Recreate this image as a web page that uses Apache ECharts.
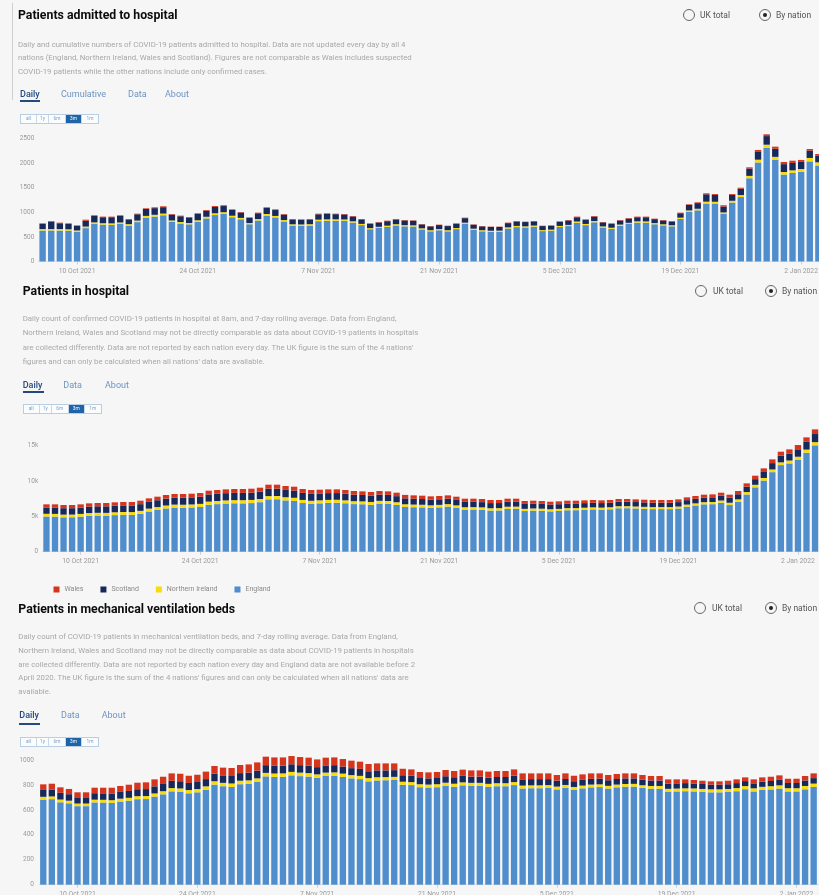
<!DOCTYPE html>
<html>
<head>
<meta charset="utf-8">
<script src="https://cdn.jsdelivr.net/npm/echarts@6/dist/echarts.min.js"></script>
<style>
html,body{margin:0;padding:0;}
body{width:819px;height:895px;overflow:hidden;background:#f6f6f6;position:relative;font-family:Roboto,"Noto Sans",sans-serif;}
#chart{position:absolute;left:0;top:0;width:830px;height:895px;}
.t{position:absolute;white-space:nowrap;z-index:2;}
.title{font-weight:700;font-size:12.3px;color:#0b0c0c;line-height:14px;}
.desc{font-size:7.8px;color:#a8a8a8;}
.tab{font-size:9px;color:#6d93c4;line-height:11px;}
.tab.sel{color:#24497e;font-weight:500;}
.uline{position:absolute;height:2px;background:#24497e;z-index:2;}
.btns{position:absolute;display:flex;border:1px solid #b9cde3;height:8px;z-index:2;background:#fafcfe;}
.btns span{font-size:4.8px;line-height:8px;color:#7f9cc4;text-align:center;border-right:1px solid #c8d8ea;}
.btns span:last-child{border-right:none;}
.btns span.on{background:#1f64a8;color:#fff;}
.radio{position:absolute;width:12px;height:12px;border:1.5px solid #666;border-radius:50%;box-sizing:border-box;z-index:2;}
.radio.on::after{content:"";position:absolute;left:2.5px;top:2.5px;width:4px;height:4px;border-radius:50%;background:#222;}
.rl{font-size:8.5px;color:#555;line-height:10px;}
.vline{position:absolute;left:12px;top:3px;width:1px;height:97px;background:#cfcfcf;}
</style>
</head>
<body>
<div id="chart"></div>

<!-- Panel: admissions -->
<div class="vline"></div>
<div class="t title" style="left:18px;top:8px;">Patients admitted to hospital</div>
<div class="t desc" style="left:18px;top:37.75px;line-height:13.5px;">Daily and cumulative numbers of COVID-19 patients admitted to hospital. Data are not updated every day by all 4<br>nations (England, Northern Ireland, Wales and Scotland). Figures are not comparable as Wales includes suspected<br>COVID-19 patients while the other nations include only confirmed cases.</div>
<div class="t tab sel" style="left:20px;top:88.8px;">Daily</div>
<div class="uline" style="left:20px;top:100px;width:20px;"></div>
<div class="t tab" style="left:61px;top:88.8px;">Cumulative</div>
<div class="t tab" style="left:128px;top:88.8px;">Data</div>
<div class="t tab" style="left:165px;top:88.8px;">About</div>
<div class="btns" style="left:20px;top:114px;"><span style="width:15px">all</span><span style="width:11px">1y</span><span style="width:16px">6m</span><span class="on" style="width:15px">3m</span><span style="width:16px">1m</span></div>
<div class="radio" style="left:683px;top:9px;"></div>
<div class="t rl" style="left:700px;top:10px;">UK total</div>
<div class="radio on" style="left:759px;top:9px;"></div>
<div class="t rl" style="left:776px;top:10px;">By nation</div>

<!-- Panel: patients in hospital -->
<div class="t title" style="left:22.7px;top:284px;">Patients in hospital</div>
<div class="t desc" style="left:22.7px;top:311.8px;line-height:14.4px;">Daily count of confirmed COVID-19 patients in hospital at 8am, and 7-day rolling average. Data from England,<br>Northern Ireland, Wales and Scotland may not be directly comparable as data about COVID-19 patients in hospitals<br>are collected differently. Data are not reported by each nation every day. The UK figure is the sum of the 4 nations'<br>figures and can only be calculated when all nations' data are available.</div>
<div class="t tab sel" style="left:22.7px;top:379.5px;">Daily</div>
<div class="uline" style="left:22.7px;top:391px;width:21px;"></div>
<div class="t tab" style="left:63.3px;top:379.5px;">Data</div>
<div class="t tab" style="left:105px;top:379.5px;">About</div>
<div class="btns" style="left:22.7px;top:404px;"><span style="width:15px">all</span><span style="width:11px">1y</span><span style="width:16px">6m</span><span class="on" style="width:15px">3m</span><span style="width:16px">1m</span></div>
<div class="radio" style="left:695px;top:285px;"></div>
<div class="t rl" style="left:713px;top:286px;">UK total</div>
<div class="radio on" style="left:765px;top:285px;"></div>
<div class="t rl" style="left:782px;top:286px;">By nation</div>

<!-- Panel: mechanical ventilation beds -->
<div class="t title" style="left:18.3px;top:602.3px;">Patients in mechanical ventilation beds</div>
<div class="t desc" style="left:18.3px;top:629.75px;line-height:13.9px;">Daily count of COVID-19 patients in mechanical ventilation beds, and 7-day rolling average. Data from England,<br>Northern Ireland, Wales and Scotland may not be directly comparable as data about COVID-19 patients in hospitals<br>are collected differently. Data are not reported by each nation every day and England data are not available before 2<br>April 2020. The UK figure is the sum of the 4 nations' figures and can only be calculated when all nations' data are<br>available.</div>
<div class="t tab sel" style="left:19.3px;top:710.2px;">Daily</div>
<div class="uline" style="left:19.3px;top:722.5px;width:21px;"></div>
<div class="t tab" style="left:61px;top:710.2px;">Data</div>
<div class="t tab" style="left:101.7px;top:710.2px;">About</div>
<div class="btns" style="left:20px;top:736.5px;"><span style="width:15px">all</span><span style="width:11px">1y</span><span style="width:16px">6m</span><span class="on" style="width:15px">3m</span><span style="width:16px">1m</span></div>
<div class="radio" style="left:694px;top:602px;"></div>
<div class="t rl" style="left:712px;top:603px;">UK total</div>
<div class="radio on" style="left:765px;top:602px;"></div>
<div class="t rl" style="left:782px;top:603px;">By nation</div>

<script>
// Reporting dates (one bar per day)
const dates = [
  '6 Oct 2021','7 Oct 2021','8 Oct 2021','9 Oct 2021','10 Oct 2021','11 Oct 2021','12 Oct 2021','13 Oct 2021',
  '14 Oct 2021','15 Oct 2021','16 Oct 2021','17 Oct 2021','18 Oct 2021','19 Oct 2021','20 Oct 2021','21 Oct 2021',
  '22 Oct 2021','23 Oct 2021','24 Oct 2021','25 Oct 2021','26 Oct 2021','27 Oct 2021','28 Oct 2021','29 Oct 2021',
  '30 Oct 2021','31 Oct 2021',
  '1 Nov 2021','2 Nov 2021','3 Nov 2021','4 Nov 2021','5 Nov 2021','6 Nov 2021','7 Nov 2021','8 Nov 2021',
  '9 Nov 2021','10 Nov 2021','11 Nov 2021','12 Nov 2021','13 Nov 2021','14 Nov 2021','15 Nov 2021','16 Nov 2021',
  '17 Nov 2021','18 Nov 2021','19 Nov 2021','20 Nov 2021','21 Nov 2021','22 Nov 2021','23 Nov 2021','24 Nov 2021',
  '25 Nov 2021','26 Nov 2021','27 Nov 2021','28 Nov 2021','29 Nov 2021','30 Nov 2021',
  '1 Dec 2021','2 Dec 2021','3 Dec 2021','4 Dec 2021','5 Dec 2021','6 Dec 2021','7 Dec 2021','8 Dec 2021',
  '9 Dec 2021','10 Dec 2021','11 Dec 2021','12 Dec 2021','13 Dec 2021','14 Dec 2021','15 Dec 2021','16 Dec 2021',
  '17 Dec 2021','18 Dec 2021','19 Dec 2021','20 Dec 2021','21 Dec 2021','22 Dec 2021','23 Dec 2021','24 Dec 2021',
  '25 Dec 2021','26 Dec 2021','27 Dec 2021','28 Dec 2021','29 Dec 2021','30 Dec 2021','31 Dec 2021',
  '1 Jan 2022','2 Jan 2022','3 Jan 2022','4 Jan 2022','5 Jan 2022'
];
const tickDates = ['10 Oct 2021','24 Oct 2021','7 Nov 2021','21 Nov 2021','5 Dec 2021','19 Dec 2021','2 Jan 2022'];
const nations = ['Wales','Scotland','Northern Ireland','England'];
const nationColors = {'England':'#4f8dcc','Northern Ireland':'#f7dc0a','Scotland':'#17285a','Wales':'#d4351c'};

// Patients admitted to hospital (daily)
const admEngland = [
  629,631,629,626,604,678,765,750,745,765,
  729,800,893,913,940,804,772,755,806,875,
  944,968,900,858,757,833,933,896,814,730,
  726,730,820,826,829,828,791,740,656,681,
  702,732,715,711,652,614,635,613,658,763,
  645,614,605,607,670,699,692,708,618,627,
  701,720,786,739,797,691,664,726,762,790,
  788,757,734,715,865,1008,1040,1178,1178,965,
  1198,1310,1692,2013,2312,2069,1767,1799,1823,2035,
  1951
];
const admNI = [
  30,28,30,28,26,32,30,28,30,28,
  30,32,34,36,34,30,30,28,32,34,
  36,34,30,28,26,30,32,30,28,26,
  26,28,30,30,28,26,26,24,22,24,
  26,26,24,24,22,22,24,22,22,26,
  22,22,20,20,24,24,22,22,20,20,
  22,24,26,24,26,22,22,24,24,26,
  26,24,22,22,26,30,32,38,36,32,
  36,40,48,56,62,58,52,54,56,70,
  64
];
const admScotland = [
  105,150,118,112,95,118,130,122,125,132,
  95,128,140,136,130,120,118,112,128,122,
  130,125,118,110,105,118,122,120,112,98,
  95,96,110,112,105,102,98,92,90,88,
  92,96,95,92,80,78,82,85,88,92,
  80,78,76,74,86,90,88,85,82,80,
  86,90,88,84,90,82,80,84,86,84,
  86,80,78,76,90,110,115,150,140,120,
  120,130,150,170,175,165,160,150,145,150,
  140
];
const admWales = [
  12,14,12,10,10,22,14,12,12,14,
  10,12,14,16,18,12,12,10,14,16,
  18,16,12,10,10,12,14,14,12,10,
  10,10,12,12,10,10,10,8,8,10,
  10,10,10,10,8,8,8,8,8,10,
  8,8,8,8,10,10,8,8,8,8,
  8,10,12,10,12,8,10,10,12,12,
  12,10,10,10,12,14,16,20,18,26,
  18,20,24,28,36,42,44,46,40,32,
  30
];

// Patients in hospital
const hospEngland = [
  4983,4968,4863,4873,4963,5079,5111,5101,5181,5218,
  5208,5376,5687,5902,6118,6240,6220,6256,6336,6651,
  6736,6815,6852,6842,6879,7006,7410,7425,7257,7187,
  6887,6771,6843,6910,6930,6856,6739,6717,6642,6804,
  6782,6618,6335,6296,6274,6200,6267,6381,6212,5949,
  5969,5942,5820,5840,6049,6069,5754,5811,5784,5709,
  5762,5866,5876,5933,5985,5948,6000,6147,6157,6115,
  6067,6025,6030,6025,6105,6373,6542,6705,6727,6923,
  6600,7074,8094,9108,10066,11260,12254,12495,13018,14013,
  15050
];
const hospNI = [
  380,385,385,380,385,390,395,395,400,400,
  400,405,410,415,420,425,430,430,435,440,
  440,445,445,450,450,455,460,455,450,445,
  440,435,430,425,420,415,410,405,400,395,
  390,385,380,375,370,365,360,355,350,345,
  340,335,330,325,320,315,310,310,305,300,
  300,300,295,295,290,290,290,290,285,285,
  285,285,285,285,290,295,300,305,310,320,
  330,340,350,360,370,380,395,410,425,440,
  455
];
const hospScotland = [
  900,905,910,905,900,915,920,925,930,935,
  940,950,960,970,980,990,1000,1005,1010,1015,
  1020,1025,1030,1030,1035,1040,1050,1045,1035,1020,
  1000,985,970,960,950,940,925,910,900,890,
  875,860,840,825,810,800,790,780,770,760,
  750,740,730,720,710,700,695,690,680,670,
  665,660,655,650,650,645,640,640,635,630,
  630,625,620,620,625,630,640,650,660,680,
  700,720,760,800,850,900,950,1000,1050,1100,
  1150
];
const hospWales = [
  440,445,450,450,455,460,465,470,475,480,
  485,490,495,500,505,510,515,520,525,530,
  535,540,545,550,555,560,565,560,555,550,
  545,540,535,530,525,520,515,510,505,500,
  495,490,485,480,475,470,465,460,455,450,
  445,440,435,430,425,420,415,410,405,400,
  400,395,395,390,390,385,385,380,380,380,
  380,380,380,385,390,395,400,410,420,430,
  440,455,470,490,510,530,555,580,605,630,
  660
];

// Patients in mechanical ventilation beds
const ventEngland = [
  683,686,661,653,630,630,660,659,656,667,
  674,686,687,707,725,749,746,733,741,762,
  803,790,784,806,809,825,869,864,865,877,
  871,867,858,872,874,864,853,847,829,836,
  838,840,801,799,782,779,782,794,786,797,
  793,793,785,790,790,799,772,774,774,776,
  764,777,762,773,781,783,771,781,786,787,
  776,770,770,747,748,750,748,744,741,741,
  744,750,766,748,760,764,771,748,748,765,
  784,763
];
const ventNI = [
  22,22,22,21,21,21,22,22,22,23,
  23,24,24,25,25,26,26,26,26,27,
  27,27,28,28,28,28,28,28,28,28,
  28,28,27,27,27,27,26,26,26,26,
  25,25,25,24,24,24,24,24,24,24,
  24,24,24,24,24,24,23,23,23,23,
  23,23,22,22,22,22,22,22,22,22,
  22,22,22,22,23,23,24,24,24,24,
  24,25,25,25,25,26,26,26,26,27,
  27,27
];
const ventScotland = [
  55,56,54,52,50,50,52,52,54,54,
  55,56,56,57,58,58,58,57,57,58,
  60,60,60,61,62,62,62,62,62,61,
  60,60,58,58,58,57,56,56,55,55,
  54,54,52,52,50,50,50,52,52,52,
  50,50,50,50,50,52,50,50,50,48,
  48,48,46,46,46,46,45,45,45,44,
  44,44,44,42,42,42,40,40,38,38,
  38,40,40,40,42,42,44,42,42,44,
  44,44
];
const ventWales = [
  45,46,44,42,40,40,44,45,46,48,
  50,52,54,56,58,60,60,58,58,60,
  62,62,64,65,66,66,68,67,66,66,
  65,64,62,62,62,60,60,58,58,56,
  56,54,52,50,48,48,48,50,50,50,
  50,50,48,48,48,50,48,46,46,46,
  45,45,44,44,44,42,42,40,40,40,
  38,36,36,34,32,30,28,26,26,26,
  28,30,30,32,34,34,36,34,34,36,
  38,38
];

const FONT = 'Roboto, "Noto Sans", sans-serif';
const isTick = (i, v) => tickDates.indexOf(v) !== -1;

function xAxisFor(gridIndex, cats) {
  return {
    type: 'category', gridIndex, data: cats, boundaryGap: true,
    axisLine: { show: true, lineStyle: { color: '#dfe3e8', width: 1 } },
    axisTick: { show: true, alignWithLabel: true, length: 3, interval: isTick, lineStyle: { color: '#c9ced4' } },
    axisLabel: { interval: isTick, fontSize: 6.8, color: '#9a9a9a', margin: 6, fontFamily: FONT },
    splitLine: { show: false }
  };
}
function yAxisFor(gridIndex, max, interval, fmt, margin) {
  return {
    type: 'value', gridIndex, min: 0, max, interval,
    axisLine: { show: false }, axisTick: { show: false }, splitLine: { show: false },
    axisLabel: { fontSize: 6.5, color: '#9a9a9a', margin, fontFamily: FONT, formatter: fmt }
  };
}
function stackSeries(idx, england, ni, scotland, wales) {
  const parts = [['England', england], ['Northern Ireland', ni], ['Scotland', scotland], ['Wales', wales]];
  return parts.map(([name, data]) => ({
    name, type: 'bar', stack: 'nations' + idx, xAxisIndex: idx, yAxisIndex: idx,
    data, barCategoryGap: '26%', itemStyle: { color: nationColors[name] },
    emphasis: { disabled: true }, silent: true
  }));
}

const chart = echarts.init(document.getElementById('chart'), null, { renderer: 'canvas' });
chart.setOption({
  animation: false,
  backgroundColor: 'transparent',
  legend: {
    data: nations, left: 48.5, top: 581, icon: 'rect', itemWidth: 6, itemHeight: 6, itemGap: 17,
    selectedMode: false, textStyle: { fontSize: 7, color: '#8a8a8a', fontFamily: FONT }
  },
  grid: [
    { left: 38.3, top: 113.9, width: 784.4, height: 147.6, outerBoundsMode: 'none' },
    { left: 42.2, top: 410.4, width: 777.1, height: 141.3, outerBoundsMode: 'none' },
    { left: 39.0, top: 735.1, width: 787.5, height: 149.6, outerBoundsMode: 'none' }
  ],
  xAxis: [
    xAxisFor(0, dates.slice(0, 91)),
    xAxisFor(1, dates.slice(0, 91)),
    xAxisFor(2, dates)
  ],
  yAxis: [
    yAxisFor(0, 3000, 500, v => (v === 3000 ? '' : String(v)), 4),
    yAxisFor(1, 20000, 5000, v => (v === 20000 ? '' : v === 0 ? '0' : (v / 1000) + 'k'), 4),
    yAxisFor(2, 1200, 200, v => (v === 1200 ? '' : String(v)), 5)
  ],
  series: [
    ...stackSeries(0, admEngland, admNI, admScotland, admWales),
    ...stackSeries(1, hospEngland, hospNI, hospScotland, hospWales),
    ...stackSeries(2, ventEngland, ventNI, ventScotland, ventWales)
  ]
});
</script>
</body>
</html>
